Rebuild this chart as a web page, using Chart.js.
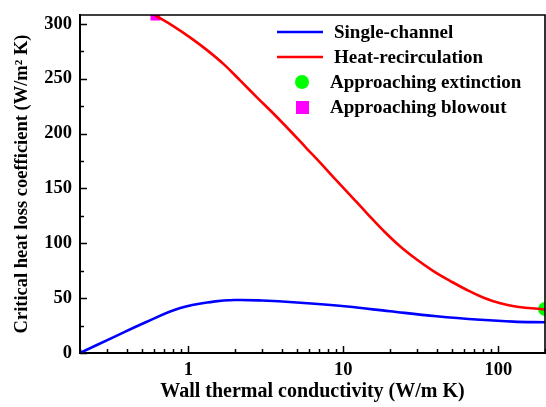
<!DOCTYPE html>
<html lang="en">
<head>
  <meta charset="UTF-8">
  <title>Critical heat loss coefficient</title>
  <script src="https://cdn.jsdelivr.net/npm/chart.js"></script>
  <style>
    body { margin: 0; background: #fff; }
    canvas { display: block; }
  </style>
</head>
<body>
  <canvas id="myChart" width="546" height="407"></canvas>
  <script>
    // values
    const singleK = [0.2, 0.33, 0.54, 0.887, 1.45, 2.0, 3.0, 5, 10.6, 20, 40, 76.5, 125, 200];
    const singleH = [0, 14.5, 28.5, 41, 46.8, 48.3, 47.8, 46, 42.3, 38, 33.5, 30.3, 28.6, 28];
    const recircK = [0.613, 0.804, 1.03, 1.32, 1.69, 2.166, 2.77, 3.55, 4.55, 5.83, 7.11, 8.65, 11.1,
      14.2, 18.2, 23.3, 29.9, 38.3, 49, 62.8, 80.4, 103, 132, 200];
    const recircH = [307.5, 297.7, 287.4, 276, 263.2, 248.2, 233, 218, 202.3, 186.1, 173.3, 160.1, 143.7,
      127.3, 111.3, 97, 84.9, 74.4, 65.6, 57.4, 50.4, 45.3, 42.2, 39.7];
    const extinctionK = [200];
    const extinctionH = [40];
    const blowoutK = [0.613];
    const blowoutH = [307.5];

    const xLabelTicks = [1, 10, 100];
    const xMinorTicks = [0.2, 0.3, 0.4, 0.5, 0.6, 0.7, 0.8, 0.9, 2, 3, 4, 5, 6, 7, 8, 9,
      20, 30, 40, 50, 60, 70, 80, 90, 200];
    const yLabelTicks = [0, 50, 100, 150, 200, 250, 300];
    const yMinorTicks = [25, 75, 125, 175, 225, 275];

    const legendItems = [
      { label: 'Single-channel', kind: 'line', color: '#0000ff' },
      { label: 'Heat-recirculation', kind: 'line', color: '#ff0000' },
      { label: 'Approaching extinction', kind: 'circle', color: '#00ff00' },
      { label: 'Approaching blowout', kind: 'square', color: '#ff00ff' },
    ];

    const FONT = "'Liberation Serif', 'Times New Roman', serif";

    const toXY = (xs, ys) => xs.map((x, i) => ({ x: x, y: ys[i] }));

    // ticks inside the frame, plus top/right border and legend
    const framePlugin = {
      id: 'frame',
      afterDraw(chart) {
        const { ctx, chartArea: a, scales } = chart;
        ctx.save();
        ctx.strokeStyle = '#000';
        ctx.lineWidth = 1.6;
        ctx.beginPath();
        ctx.moveTo(a.left, a.top);
        ctx.lineTo(a.right, a.top);
        ctx.lineTo(a.right, a.bottom);
        ctx.stroke();

        ctx.lineWidth = 1.5;
        const xt = (v, len) => {
          const px = Math.round(scales.x.getPixelForValue(v)) + 0.5;
          ctx.beginPath();
          ctx.moveTo(px, a.bottom);
          ctx.lineTo(px, a.bottom - len);
          ctx.stroke();
        };
        const yt = (v, len) => {
          const py = Math.round(scales.y.getPixelForValue(v)) + 0.5;
          ctx.beginPath();
          ctx.moveTo(a.left, py);
          ctx.lineTo(a.left + len, py);
          ctx.stroke();
        };
        xLabelTicks.forEach(v => xt(v, 7));
        xMinorTicks.forEach(v => xt(v, 4));
        yLabelTicks.forEach(v => yt(v, 7));
        yMinorTicks.forEach(v => yt(v, 4));

        // legend
        ctx.font = 'bold 19px ' + FONT;
        ctx.textBaseline = 'middle';
        ctx.textAlign = 'left';
        legendItems.forEach((item, i) => {
          const y = 32 + i * 25;
          if (item.kind === 'line') {
            ctx.strokeStyle = item.color;
            ctx.lineWidth = 2.5;
            ctx.beginPath();
            ctx.moveTo(277, y);
            ctx.lineTo(323, y);
            ctx.stroke();
            ctx.fillStyle = '#000';
            ctx.fillText(item.label, 334, y + 1);
          } else {
            ctx.fillStyle = item.color;
            if (item.kind === 'circle') {
              ctx.beginPath();
              ctx.arc(302, y, 7, 0, Math.PI * 2);
              ctx.fill();
            } else {
              ctx.fillRect(296, y - 6, 13, 13);
            }
            ctx.fillStyle = '#000';
            ctx.fillText(item.label, 330, y + 1);
          }
        });
        ctx.restore();
      }
    };

    const ctx = document.getElementById('myChart');

    const myChart = new Chart(ctx, {
      type: 'line',
      data: {
        datasets: [
          {
            label: 'Single-channel',
            data: toXY(singleK, singleH),
            borderColor: '#0000ff',
            borderWidth: 2.6,
            pointRadius: 0,
            tension: 0.4,
          },
          {
            label: 'Heat-recirculation',
            data: toXY(recircK, recircH),
            borderColor: '#ff0000',
            borderWidth: 2.6,
            pointRadius: 0,
            tension: 0.4,
          },
          {
            label: 'Approaching extinction',
            data: toXY(extinctionK, extinctionH),
            showLine: false,
            pointStyle: 'circle',
            pointRadius: 7,
            pointBackgroundColor: '#00ff00',
            pointBorderWidth: 0,
            clip: 0,
          },
          {
            label: 'Approaching blowout',
            data: toXY(blowoutK, blowoutH),
            showLine: false,
            pointStyle: 'rect',
            pointRadius: 7,
            pointBackgroundColor: '#ff00ff',
            pointBorderWidth: 0,
            clip: 0,
          },
        ]
      },
      options: {
        responsive: false,
        animation: false,
        layout: { autoPadding: false, padding: { top: 15, right: 1, left: 0, bottom: 0 } },
        plugins: {
          legend: { display: false },
          tooltip: { enabled: false },
        },
        scales: {
          x: {
            type: 'logarithmic',
            min: 0.2,
            max: 200,
            grid: { display: false, drawTicks: false },
            border: { color: '#000', width: 2 },
            afterBuildTicks: (s) => {
              s.ticks = xLabelTicks.map(v => ({ value: v }));
            },
            afterFit: (s) => {
              s.height = 54;
              s.paddingLeft = 0;
              s.paddingRight = 0;
            },
            ticks: {
              autoSkip: false,
              maxRotation: 0,
              padding: 6,
              color: '#000',
              font: { family: FONT, size: 18.5, weight: 'bold' },
              callback: (v) => String(v),
            },
            title: {
              display: true,
              text: 'Wall thermal conductivity (W/m K)',
              color: '#000',
              font: { family: FONT, size: 20, weight: 'bold' },
              padding: { top: 0, bottom: 3 },
            },
          },
          y: {
            min: 0,
            max: 308,
            grid: { display: false, drawTicks: false },
            border: { color: '#000', width: 2 },
            afterBuildTicks: (s) => {
              s.ticks = yLabelTicks.map(v => ({ value: v }));
            },
            afterFit: (s) => {
              s.width = 80;
              s.paddingTop = 0;
              s.paddingBottom = 0;
            },
            ticks: {
              padding: 8,
              color: '#000',
              font: { family: FONT, size: 18.5, weight: 'bold' },
            },
            title: {
              display: true,
              text: 'Critical heat loss coefficient (W/m² K)',
              color: '#000',
              font: { family: FONT, size: 18.5, weight: 'bold' },
              padding: { top: 11, bottom: 0 },
            },
          },
        },
      },
      plugins: [framePlugin],
    });
  </script>
</body>
</html>
